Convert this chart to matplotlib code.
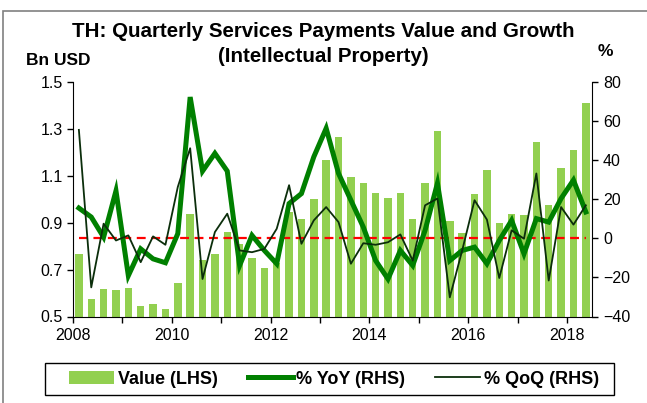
import matplotlib
matplotlib.use("Agg")
import matplotlib.pyplot as plt
from matplotlib.patches import Rectangle
import numpy as np

plt.rcParams['font.family'] = ['Liberation Sans', 'DejaVu Sans']

years = list(range(2008, 2019))
value = [0.767, 0.575, 0.617, 0.613, 0.621, 0.545, 0.552, 0.533, 0.643, 0.937,
         0.741, 0.765, 0.862, 0.808, 0.751, 0.708, 0.73, 0.946, 0.917, 1.002,
         1.166, 1.267, 1.096, 1.068, 1.027, 1.005, 1.027, 0.914, 1.071, 1.292,
         0.906, 0.857, 1.022, 1.125, 0.899, 0.937, 0.934, 1.243, 0.975, 1.135,
         1.211, 1.41]
yoy = [15.5, 10.9, 0.6, 24.3, -19.1, -5.4, -10.5, -12.5, 2.4, 72.3,
       34.4, 43.5, 34.4, -13.9, 1.5, -6.2, -13.0, 17.8, 22.9, 41.7,
       56.3, 33.2, 19.5, 5.8, -11.4, -20.8, -6.2, -13.9, 4.1, 28.2,
       -11.4, -6.2, -4.5, -13.0, -1.1, 9.2, -7.9, 10.1, 8.3, 20.4,
       29.8, 13.5]
qoq = [55.5, -25.1, 7.5, -1.1, 1.5, -12.2, 1.0, -3.3, 26.3, 46.1,
       -20.8, 3.2, 12.6, -6.2, -7.1, -5.4, 4.9, 27.2, -2.8, 9.2,
       16.0, 8.3, -13.0, -2.5, -3.3, -2.0, 2.0, -11.4, 16.9, 20.4,
       -30.2, -6.2, 19.5, 9.6, -20.3, 4.1, -0.2, 33.2, -21.6, 16.0,
       7.0, 16.9]

x = np.arange(len(value))
W, H = 647, 403
fig = plt.figure(figsize=(W / 100, H / 100), dpi=100)

# outer frame
fig.patches.append(Rectangle((3 / W, -0.05), 1.1, 1 - 11 / H + 0.05,
                             transform=fig.transFigure, fill=False,
                             edgecolor='#808080', lw=1.2))

ax = fig.add_axes([72.7 / W, 1 - 316.5 / H, (592 - 72.7) / W, (316.5 - 82) / H])
ax.bar(x, value, width=0.6, color='#92D050', label='Value (LHS)', zorder=1)
ax.set_ylim(0.5, 1.5)
ax.set_yticks(np.arange(0.5, 1.51, 0.2))
ax.set_yticklabels([f"{v:.1f}" for v in np.arange(0.5, 1.51, 0.2)])
ax.set_xlim(-0.5, len(value) - 0.5)
tick_pos = [-0.5 + 4 * k for k in range(len(years))]
ax.set_xticks(tick_pos)
ax.set_xticklabels([str(y) if (y % 2 == 0) else '' for y in years])

ax2 = ax.twinx()
ax2.hlines(0, x[0], x[-1], colors='#FF0000', linestyles=(0, (4, 2.5)), lw=1.6, zorder=2)
ax2.plot(x, yoy, color='#008000', lw=3.6, label='% YoY (RHS)', zorder=3,
         solid_joinstyle='miter')
ax2.plot(x, qoq, color='#0B2E0B', lw=1.3, label='% QoQ (RHS)', zorder=4)
ax2.set_ylim(-40, 80)
ax2.set_yticks(range(-40, 81, 20))

for a in (ax, ax2):
    a.spines['top'].set_visible(False)
    a.tick_params(labelsize=11.5, length=4, width=1, direction='out', colors='black')
ax.spines['right'].set_visible(False)
ax2.spines['left'].set_visible(False)
ax2.spines['bottom'].set_visible(False)
ax.tick_params(axis='x', pad=4)
ax.tick_params(axis='y', pad=3)
ax2.tick_params(axis='y', pad=4)

fig.text(323 / W, 1 - 37 / H, "TH: Quarterly Services Payments Value and Growth",
         ha='center', va='baseline', fontsize=14.8, fontweight='bold')
fig.text(323 / W, 1 - 62 / H, "(Intellectual Property)",
         ha='center', va='baseline', fontsize=14.8, fontweight='bold')
fig.text(26 / W, 1 - 65 / H, "Bn USD", ha='left', va='baseline', fontsize=12.5, fontweight='bold')
fig.text(605 / W, 1 - 56 / H, "%", ha='center', va='baseline', fontsize=12.5, fontweight='bold')

h1, l1 = ax.get_legend_handles_labels()
h2, l2 = ax2.get_legend_handles_labels()
leg = fig.legend(h1 + h2, l1 + l2, ncol=3, loc='center',
                 bbox_to_anchor=(334 / W, 1 - 379 / H),
                 frameon=False, prop={'weight': 'bold', 'size': 13},
                 handlelength=2.5, columnspacing=1.65, handletextpad=0.2,
                 borderpad=0.3)
fig.patches.append(Rectangle((45 / W, 1 - 395 / H), (614 - 45) / W, (395 - 362.7) / H,
                             transform=fig.transFigure, fill=False,
                             edgecolor='black', lw=1.0))

fig.savefig('out.png', dpi=100)
